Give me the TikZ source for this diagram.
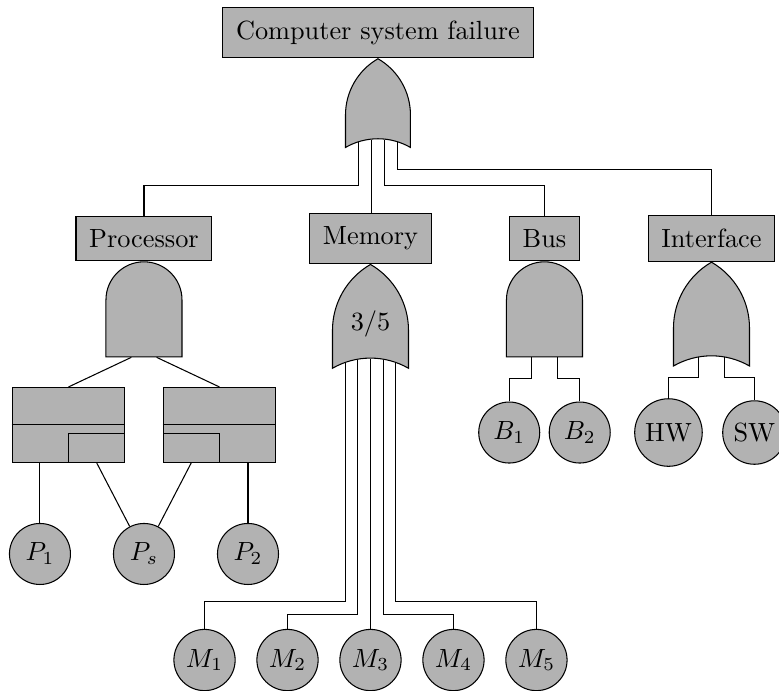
\documentclass[tikz,border=0pt]{standalone}
\usepackage{tikz}
\usetikzlibrary{positioning,shapes.gates.logic.US}
\tikzstyle{failbox} = [rectangle, draw=black, fill=black!30, inner sep=5pt, text centered]
\tikzstyle{event} = [circle, draw=black, fill=black!30, inner sep=2.5pt, minimum size=23.2pt]
\tikzstyle{orgate} = [or gate US, draw=black, fill=black!30, rotate=90, anchor=output, minimum height=28.9pt]
\tikzstyle{andgate} = [and gate US, draw=black, fill=black!30, rotate=90, anchor=output, minimum height=28.9pt]
\tikzstyle{sparebox} = [rectangle, draw=black, fill=black!30, minimum width=42.9pt, minimum height=28.5pt]
\tikzstyle{spareslot} = [rectangle, draw=black, fill=black!30, minimum width=21.4pt, minimum height=11pt]

\begin{document}
\begin{tikzpicture}[node distance=1.1cm]
			\useasboundingbox (0,0) rectangle (10.41,-9.234);
			
			\node (top) [failbox] at (5.051,-0.434) {Computer system failure};
			\node (topgate) [orgate, logic gate inputs=nnnn, minimum height=24.7pt] at (top.south) {};
			
			\node (proc) [failbox] at (1.924,-3.187) {Processor};
			\node (mem) [failbox] at (4.951,-3.187) {Memory};
			\node (bus) [failbox] at (7.276,-3.187) {Bus};
			\node (intf) [failbox] at (9.508,-3.187) {Interface};
			
			\node (procgate) [andgate] at (proc.south) {};
			\node (memgate) [orgate, logic gate inputs=nnnnn] at (mem.south) {};
			\node (busgate) [andgate] at (bus.south) {};
			\node (intfgate) [orgate] at (intf.south) {};
			\node (vote) at (memgate.center) {$3/5$};
			
			\node (spl) [sparebox, below of=proc, node distance=2.492cm, xshift=-1.009cm] {};
			\node (spr) [sparebox, right of=spl, node distance=2.018cm] {};
			\node (spls) [spareslot, anchor=south east] at (spl.south east) {};
			\node (sprs) [spareslot, anchor=south west] at (spr.south west) {};
			\draw (spl.west) -- (spl.east);
			\draw (spr.west) -- (spr.east);
			
			\node (ps) [event, below of=proc, node distance=4.216cm] {$P_s$};
			\node (p1) [event, left of=ps, node distance=1.39cm] {$P_1$};
			\node (p2) [event, right of=ps, node distance=1.39cm] {$P_2$};
			
			\node (m3) [event, below of=mem, node distance=5.633cm] {$M_3$};
			\node (m2) [event, left of=m3, node distance=1.109cm] {$M_2$};
			\node (m1) [event, left of=m2, node distance=1.109cm] {$M_1$};
			\node (m4) [event, right of=m3, node distance=1.109cm] {$M_4$};
			\node (m5) [event, right of=m4, node distance=1.109cm] {$M_5$};
			
			\node (b1) [event, below of=bus, node distance=2.593cm, xshift=-0.471cm] {$B_1$};
			\node (b2) [event, right of=b1, node distance=0.942cm] {$B_2$};
			\node (hw) [event, below of=intf, node distance=2.593cm, xshift=-0.575cm] {HW};
			\node (sw) [event, right of=hw, node distance=1.149cm] {SW};
			
			\draw (topgate.input 1) |- ([yshift=11.4pt]proc.north) -- (proc.north);
			\draw (topgate.input 2) -- (topgate.input 2 |- mem.north);
			\draw (topgate.input 3) |- ([yshift=11.4pt]bus.north) -- (bus.north);
			\draw (topgate.input 4) |- ([yshift=17.5pt]intf.north) -- (intf.north);
			
			\draw (procgate.input 1) -- (spl.north);
			\draw (procgate.input 2) -- (spr.north);
			\draw (p1) -- (p1 |- spl.south);
			\draw (p2) -- (p2 |- spr.south);
			\draw (spls.south) -- (ps);
			\draw (sprs.south) -- (ps);
			
			\draw (memgate.input 1) |- ([yshift=10.3pt]m1.north) -- (m1.north);
			\draw (memgate.input 2) |- ([yshift=5.3pt]m2.north) -- (m2.north);
			\draw (memgate.input 3) -- (memgate.input 3 |- m3.north);
			\draw (memgate.input 4) |- ([yshift=5.3pt]m4.north) -- (m4.north);
			\draw (memgate.input 5) |- ([yshift=10.3pt]m5.north) -- (m5.north);
			
			\draw (busgate.input 1) -- ++(0,-8pt) -| (b1);
			\draw (busgate.input 2) -- ++(0,-8pt) -| (b2);
			\draw (intfgate.input 1) -- ++(0,-7.6pt) -| (hw);
			\draw (intfgate.input 2) -- ++(0,-7.6pt) -| (sw);
			
			\end{tikzpicture}
\end{document}
